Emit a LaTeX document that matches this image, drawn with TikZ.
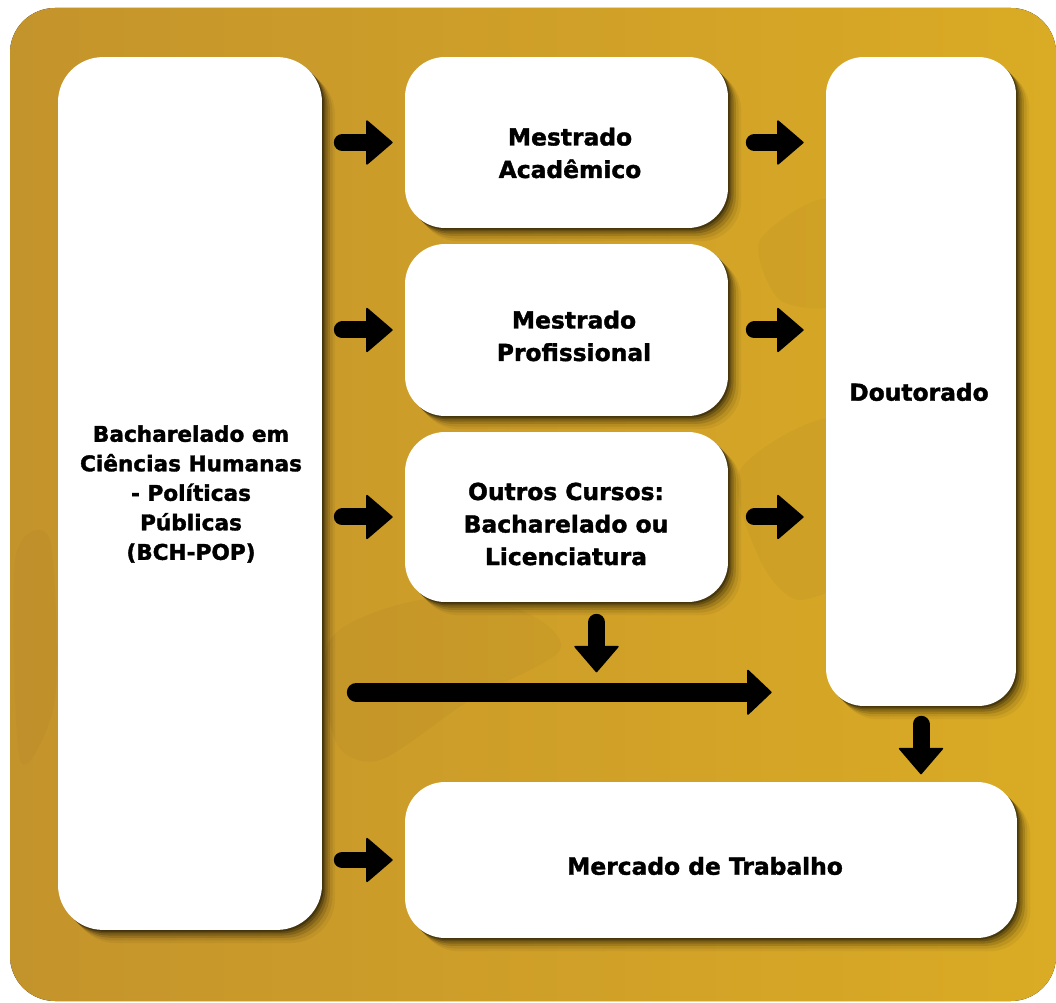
\documentclass[tikz,border=0pt]{standalone}
\usepackage{fontspec}
\setmainfont{DejaVu Sans}[BoldFeatures={FakeBold=1.6}]
\usetikzlibrary{positioning,calc,shadows,arrows.meta}

\definecolor{ochre}{RGB}{196,148,44}
\definecolor{ochrelight}{RGB}{218,171,36}
\definecolor{ochredark}{RGB}{110,80,25}

\tikzset{
  softshadow/.style={
    drop shadow={shadow xshift=1pt, shadow yshift=-1pt, opacity=.30, fill=black},
    drop shadow={shadow xshift=2pt, shadow yshift=-2pt, opacity=.22, fill=black},
    drop shadow={shadow xshift=3.2pt, shadow yshift=-3.2pt, opacity=.16, fill=black},
    drop shadow={shadow xshift=4.5pt, shadow yshift=-4.5pt, opacity=.12, fill=black},
    drop shadow={shadow xshift=6pt, shadow yshift=-6pt, opacity=.08, fill=black},
    drop shadow={shadow xshift=7.5pt, shadow yshift=-7.5pt, opacity=.05, fill=black}},
  box/.style={fill=white, rounded corners=0.8cm, inner sep=0pt, softshadow},
  lbl/.style={align=center, inner sep=0pt, font=\fontsize{13.3}{18.5}\selectfont\bfseries},
  blockarrow/.style={black, line width=0.34cm, line cap=round,
    -{Triangle[length=0.54cm, width=0.92cm, line width=1pt, round]}},
  longarrow/.style={blockarrow, line width=0.38cm,
    -{Triangle[length=0.5cm, width=0.94cm, line width=1pt, round]}}
}

\begin{document}
\begin{tikzpicture}[x=0.02cm, y=-0.02cm]
  \useasboundingbox (0,0) rectangle (1056,1003);

  % background sheet
  \fill[left color=ochre, right color=ochrelight, rounded corners=0.9cm] (10,8) rectangle (1056,1001);
  \fill[ochredark, opacity=.06] plot[smooth cycle] coordinates {(330,640) (420,600) (520,610) (560,650) (470,700) (380,760) (335,740)};
  \fill[ochredark, opacity=.06] plot[smooth cycle] coordinates {(740,470) (840,420) (860,560) (800,600) (760,560)};
  \fill[ochredark, opacity=.05] plot[smooth cycle] coordinates {(15,560) (50,540) (55,700) (20,760)};
  \fill[ochredark, opacity=.05] plot[smooth cycle] coordinates {(760,240) (830,200) (840,300) (780,300)};

  % boxes
  \node[box, rounded corners=0.9cm, minimum width=5.28cm, minimum height=17.46cm] (bch) at (190,493.5) {};
  \node[box, minimum width=6.46cm, minimum height=3.42cm] (acad) at (566.5,142.5) {};
  \node[box, minimum width=6.46cm, minimum height=3.44cm] (prof) at (566.5,330) {};
  \node[box, minimum width=6.46cm, minimum height=3.4cm] (outros) at (566.5,517) {};
  \node[box, rounded corners=0.75cm, minimum width=3.8cm, minimum height=12.98cm] (dout) at (921,381.5) {};
  \node[box, minimum width=12.24cm, minimum height=3.12cm] (merc) at (711,860) {};

  % labels
  \node[lbl, font=\fontsize{12.3}{16.8}\selectfont\bfseries] (bchtxt) at (191,494)
    {Bacharelado em\\Ciências Humanas\\- Políticas\\Públicas\\(BCH-POP)};
  \node[lbl] (acadtxt) at (570,153) {Mestrado\\Acadêmico};
  \node[lbl] (proftxt) at (574,336) {Mestrado\\Profissional};
  \node[lbl] (outrostxt) at (566,524) {Outros Cursos:\\Bacharelado ou\\Licenciatura};
  \node[lbl] (douttxt) at (919,392) {Doutorado};
  \node[lbl] (merctxt) at (705,866) {Mercado de Trabalho};

  % arrows out of the first box
  \draw[blockarrow] ([xshift=0.4cm]bch.east |- acad.west) -- ([xshift=-0.24cm]acad.west);
  \draw[blockarrow] ([xshift=0.4cm]bch.east |- prof.west) -- ([xshift=-0.24cm]prof.west);
  \draw[blockarrow] ([xshift=0.4cm]bch.east |- outros.west) -- ([xshift=-0.24cm]outros.west);
  \draw[blockarrow] ([xshift=0.4cm]bch.east |- merc.west) -- ([xshift=-0.24cm]merc.west);

  % arrows into Doutorado
  \draw[blockarrow] ([xshift=0.52cm]acad.east) -- ([xshift=-0.44cm]acad.east -| dout.west);
  \draw[blockarrow] ([xshift=0.52cm]prof.east) -- ([xshift=-0.44cm]prof.east -| dout.west);
  \draw[blockarrow] ([xshift=0.52cm]outros.east) -- ([xshift=-0.44cm]outros.east -| dout.west);

  % downward arrows and the long one
  \draw[blockarrow] ([xshift=0.6cm, yshift=-0.4cm]outros.south) -- ([xshift=0.6cm, yshift=-1.4cm]outros.south);
  \draw[blockarrow] ([yshift=-0.36cm]dout.south) -- ([yshift=-1.36cm]dout.south);
  \draw[longarrow] ([xshift=0.68cm, yshift=0.28cm]bch.east |- dout.south) -- ([xshift=-1.08cm, yshift=0.28cm]dout.south west);
\end{tikzpicture}
\end{document}
